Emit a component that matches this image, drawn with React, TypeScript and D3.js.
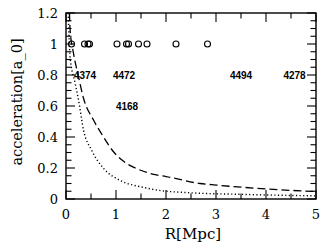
import React from "react";
import * as d3 from "d3";

const galaxyR = [0.11, 0.37, 0.44, 0.47, 1.02, 1.21, 1.25, 1.45, 1.62, 2.2, 2.83];
const galaxyAcc = [1, 1, 1, 1, 1, 1, 1, 1, 1, 1, 1];

const labelNames = ["4374", "4472", "4494", "4278", "4168"];
const labelR = [0.38, 1.16, 3.5, 4.57, 1.22];
const labelAcc = [0.8, 0.8, 0.8, 0.8, 0.6];

const dashedR = [0.07, 0.08, 0.15, 0.25, 0.35, 0.55, 0.75, 0.95, 1.21, 1.48, 1.81, 2.0, 2.68, 3.0, 4.0, 5.0];
const dashedAcc = [1.2, 1.1, 0.94, 0.79, 0.65, 0.51, 0.4, 0.305, 0.23, 0.187, 0.155, 0.145, 0.1, 0.09, 0.065, 0.048];

const dottedR = [0.045, 0.08, 0.18, 0.25, 0.35, 0.51, 0.75, 1.08, 1.55, 1.81, 2.5, 3.5, 5.0];
const dottedAcc = [1.2, 0.92, 0.75, 0.64, 0.445, 0.316, 0.198, 0.12, 0.075, 0.058, 0.04, 0.03, 0.02];

const xTicks = [0, 1, 2, 3, 4, 5];
const yTicks = [0, 0.2, 0.4, 0.6, 0.8, 1, 1.2];
const yTickLabels = ["0", "0.2", "0.4", "0.6", "0.8", "1", "1.2"];

const W = 332, H = 249;
const L = 66, R = 316, T = 13, B = 199;

export default function App() {
  const x = d3.scaleLinear().domain([0, 5]).range([L, R]);
  const y = d3.scaleLinear().domain([0, 1.2]).range([B, T]);
  const line = d3.line<[number, number]>().x(d => x(d[0])).y(d => y(d[1])).curve(d3.curveMonotoneX);
  const dashed = line(dashedR.map((r, i) => [r, dashedAcc[i]]));
  const dotted = line(dottedR.map((r, i) => [r, dottedAcc[i]]));

  const xMinor = d3.range(0, 5.001, 0.5).filter(v => Math.abs(v - Math.round(v)) > 0.01);
  const yMinor = d3.range(0, 1.2001, 0.05).filter(v => Math.abs(v * 5 - Math.round(v * 5)) > 0.01);
  const MAJ = 9, MIN = 5.5;
  const serif = "'DejaVu Serif', serif";

  return (
    <svg width={W} height={H} style={{ position: "absolute", left: 0, top: 0, background: "#fff" }}>
      <defs>
        <clipPath id="plot"><rect x={L} y={T} width={R - L} height={B - T} /></clipPath>
      </defs>
      <g clipPath="url(#plot)">
        <path d={dashed || ""} fill="none" stroke="#000" strokeWidth={1.3} strokeDasharray="8,4" />
        <path d={dotted || ""} fill="none" stroke="#000" strokeWidth={1.4} strokeDasharray="1.2,2.4" />
      </g>
      {galaxyR.map((r, i) => (
        <circle key={i} cx={x(r)} cy={y(galaxyAcc[i])} r={3} fill="none" stroke="#000" strokeWidth={1.1} />
      ))}
      {labelNames.map((n, i) => (
        <text key={n} x={x(labelR[i])} y={y(labelAcc[i])} dy="0.35em" textAnchor="middle"
          fontFamily="'Liberation Sans', Arial, sans-serif" fontWeight="bold" fontSize={10}>{n}</text>
      ))}
      <rect x={L} y={T} width={R - L} height={B - T} fill="none" stroke="#000" strokeWidth={1.4} />
      {xTicks.map(v => (
        <g key={"xt" + v}>
          <line x1={x(v)} x2={x(v)} y1={B} y2={B - MAJ} stroke="#000" strokeWidth={1.1} />
          <line x1={x(v)} x2={x(v)} y1={T} y2={T + MAJ} stroke="#000" strokeWidth={1.1} />
          <text x={x(v)} y={214} dy="0.35em" textAnchor="middle" fontFamily={serif} fontSize={13}>{v}</text>
        </g>
      ))}
      {xMinor.map(v => (
        <g key={"xm" + v}>
          <line x1={x(v)} x2={x(v)} y1={B} y2={B - MIN} stroke="#000" strokeWidth={1.1} />
          <line x1={x(v)} x2={x(v)} y1={T} y2={T + MIN} stroke="#000" strokeWidth={1.1} />
        </g>
      ))}
      {yTicks.map((v, i) => (
        <g key={"yt" + v}>
          <line x1={L} x2={L + MAJ} y1={y(v)} y2={y(v)} stroke="#000" strokeWidth={1.1} />
          <line x1={R} x2={R - MAJ} y1={y(v)} y2={y(v)} stroke="#000" strokeWidth={1.1} />
          <text x={58} y={y(v)} dy="0.35em" textAnchor="end" fontFamily={serif} fontSize={13}>{yTickLabels[i]}</text>
        </g>
      ))}
      {yMinor.map(v => (
        <g key={"ym" + v}>
          <line x1={L} x2={L + MIN} y1={y(v)} y2={y(v)} stroke="#000" strokeWidth={1.1} />
          <line x1={R} x2={R - MIN} y1={y(v)} y2={y(v)} stroke="#000" strokeWidth={1.1} />
        </g>
      ))}
      <text x={(L + R) / 2 + 2} y={234} dy="0.35em" textAnchor="middle" fontFamily={serif} fontSize={15}>R[Mpc]</text>
      <text transform={`translate(17,102) rotate(-90)`} dy="0.35em" textAnchor="middle" fontFamily={serif} fontSize={14.5}>acceleration[a_0]</text>
    </svg>
  );
}
